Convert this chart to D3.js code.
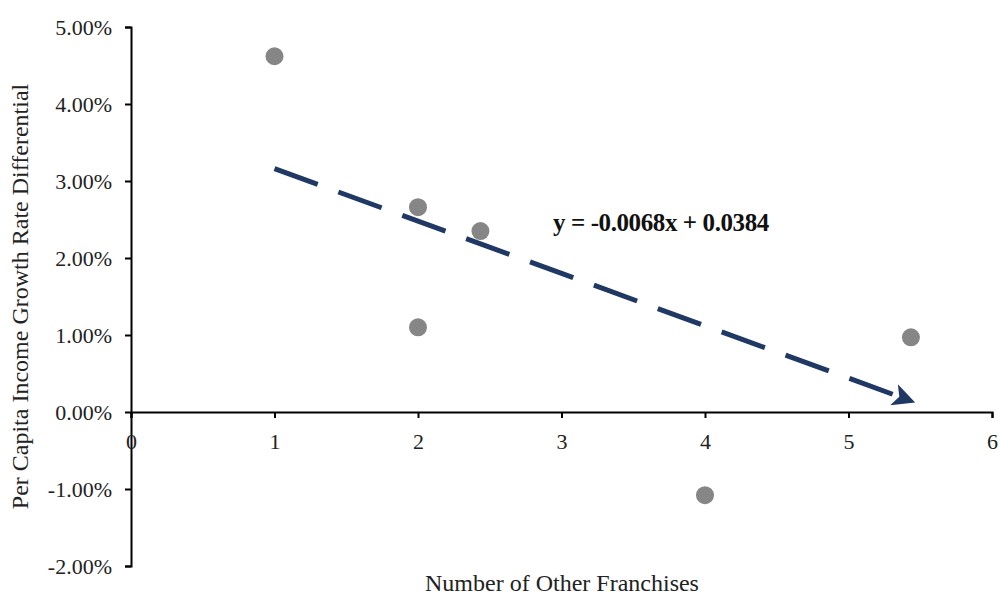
<!DOCTYPE html>
<html>
<head>
<meta charset="utf-8">
<script src="https://cdn.jsdelivr.net/npm/d3@7"></script>
<style>
  body { margin: 0; background: #fff; }
  svg { display: block; font-family: "Liberation Serif", "Times New Roman", serif; }
</style>
</head>
<body>
<svg id="chart" width="999" height="597"></svg>
<script>
// data
const franchises = [1, 2, 2.435, 2, 4, 5.435];
const growthDiff = [0.0462, 0.0266, 0.0235, 0.0110, -0.0108, 0.0097];
const xTicks = [0, 1, 2, 3, 4, 5, 6];
const yTicks = [-0.02, -0.01, 0, 0.01, 0.02, 0.03, 0.04, 0.05];
const slope = -0.0068;
const intercept = 0.0384;

const svg = d3.select('#chart');
const x = d3.scaleLinear().domain([0, 6]).range([131, 992]);
const y = d3.scaleLinear().domain([-0.02, 0.05]).range([566, 27]);

// plain hyphen for negatives, like the original
const pct = d => d3.format('.2%')(d).replace('\u2212', '-');

// y axis
const yAxis = svg.append('g')
    .attr('transform', `translate(${x(0)},0)`)
    .call(d3.axisLeft(y).tickValues(yTicks).tickFormat(pct).tickSizeOuter(0).tickSize(6));
yAxis.select('.domain').attr('stroke', '#000').attr('stroke-width', 2);
yAxis.selectAll('.tick line').attr('stroke', '#000').attr('stroke-width', 2);
yAxis.selectAll('.tick text')
    .attr('x', -19)
    .style('font-family', '"Liberation Serif", serif')
    .style('font-size', '22px')
    .attr('fill', '#222');

// x axis at zero
const xAxis = svg.append('g')
    .attr('transform', `translate(0,${y(0)})`)
    .call(d3.axisBottom(x).tickValues(xTicks).tickFormat(d3.format('d')).tickSizeOuter(0).tickSize(6));
xAxis.select('.domain').attr('stroke', '#000').attr('stroke-width', 2);
xAxis.selectAll('.tick line').attr('stroke', '#000').attr('stroke-width', 2);
xAxis.selectAll('.tick text')
    .attr('y', 21)
    .style('font-family', '"Liberation Serif", serif')
    .style('font-size', '22px')
    .attr('fill', '#222');

// points
svg.append('g')
    .selectAll('circle')
    .data(franchises)
    .enter()
    .append('circle')
    .attr('cx', d => x(d))
    .attr('cy', (d, i) => y(growthDiff[i]))
    .attr('r', 9)
    .attr('fill', '#868686');

// trend line with arrow
const defs = svg.append('defs');
defs.append('marker')
    .attr('id', 'arrow')
    .attr('viewBox', '0 0 10 10')
    .attr('refX', 8)
    .attr('refY', 5)
    .attr('markerWidth', 4.5)
    .attr('markerHeight', 4.5)
    .attr('markerUnits', 'strokeWidth')
    .attr('orient', 'auto')
    .append('path')
    .attr('d', 'M0,0 L10,5 L0,10 L2.5,5 Z')
    .attr('fill', '#1f3864');

const x0 = 1, x1 = d3.max(franchises);
svg.append('line')
    .attr('x1', x(x0))
    .attr('y1', y(slope * x0 + intercept))
    .attr('x2', x(x1))
    .attr('y2', y(slope * x1 + intercept))
    .attr('stroke', '#1f3864')
    .attr('stroke-width', 5)
    .attr('stroke-dasharray', '46 22')
    .attr('marker-end', 'url(#arrow)');

// equation
svg.append('text')
    .attr('x', 553)
    .attr('y', 231)
    .style('font-size', '25px')
    .style('font-weight', 'bold')
    .style('letter-spacing', '-0.4px')
    .attr('fill', '#111')
    .text('y = -0.0068x + 0.0384');

// axis titles
svg.append('text')
    .attr('x', 562)
    .attr('y', 591)
    .attr('text-anchor', 'middle')
    .style('font-size', '24px')
    .attr('fill', '#222')
    .text('Number of Other Franchises');

svg.append('text')
    .attr('transform', `translate(28,${(y(0.05) + y(-0.02)) / 2}) rotate(-90)`)
    .attr('text-anchor', 'middle')
    .style('font-size', '24px')
    .attr('fill', '#222')
    .text('Per Capita Income Growth Rate Differential');
</script>
</body>
</html>
